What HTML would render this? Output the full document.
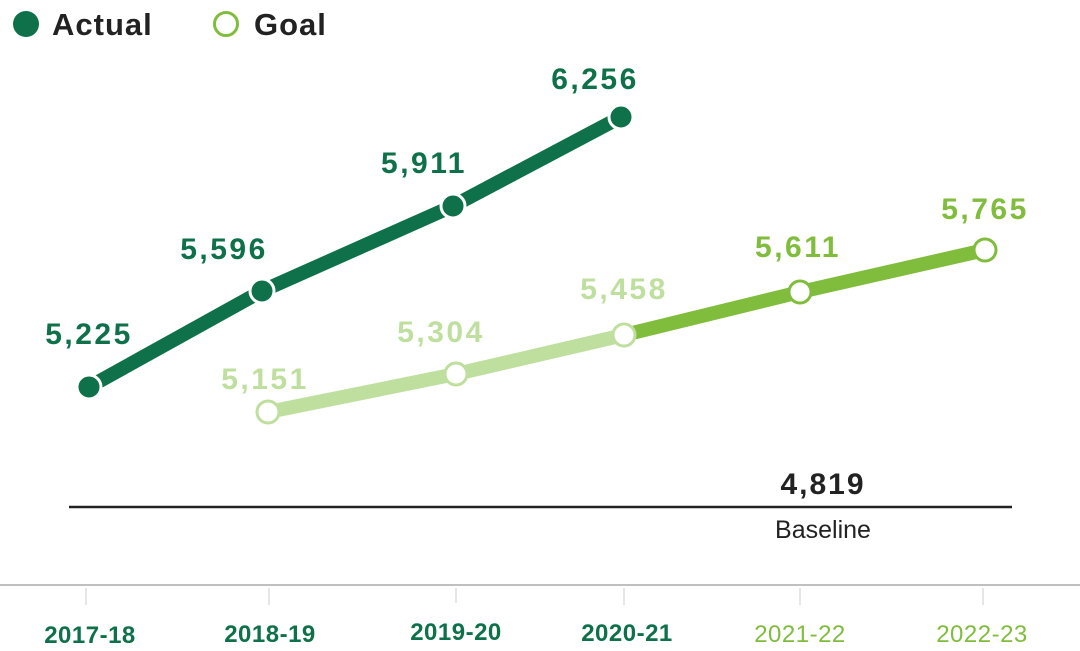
<!DOCTYPE html>
<html><head><style>body{margin:0;background:#fff}svg{display:block}</style></head><body>
<svg width="1080" height="651" xmlns="http://www.w3.org/2000/svg" font-family="Liberation Sans, sans-serif">
<circle cx="26" cy="24" r="13" fill="#0e7149"/>
<text x="52" y="35" font-size="31" font-weight="bold" fill="#222" letter-spacing="1">Actual</text>
<circle cx="226" cy="24" r="11.5" fill="#fff" stroke="#80bd3d" stroke-width="3"/>
<text x="254" y="35" font-size="31" font-weight="bold" fill="#222" letter-spacing="1">Goal</text>
<line x1="69" y1="507" x2="1012" y2="507" stroke="#222" stroke-width="2.5"/>
<text x="823" y="494" text-anchor="middle" font-size="30" font-weight="bold" fill="#222" letter-spacing="2">4,819</text>
<text x="823" y="538" text-anchor="middle" font-size="25" fill="#222">Baseline</text>
<line x1="0" y1="585" x2="1080" y2="585" stroke="#aaa" stroke-width="1.5"/>
<g stroke="#ccc" stroke-width="1">
<line x1="86" y1="588" x2="86" y2="605"/><line x1="269" y1="588" x2="269" y2="605"/><line x1="456" y1="588" x2="456" y2="603"/><line x1="624" y1="588" x2="624" y2="605"/><line x1="800" y1="588" x2="800" y2="605"/><line x1="983" y1="588" x2="983" y2="605"/></g>
<g font-size="24" font-weight="bold" fill="#0e7149" text-anchor="middle" letter-spacing="0.5">
<text x="90" y="643">2017-18</text><text x="270" y="642">2018-19</text><text x="456" y="640">2019-20</text><text x="627" y="641">2020-21</text></g>
<g font-size="24" fill="#80bd3d" text-anchor="middle" letter-spacing="0.5"><text x="800" y="642">2021-22</text><text x="982" y="642">2022-23</text></g>
<polyline points="268,412 456,374 624,335" fill="none" stroke="#bfdf9f" stroke-width="14"/>
<polyline points="624,335 800,292 985,250" fill="none" stroke="#80bd3d" stroke-width="14"/>
<polyline points="89,387 262,291 453,206 621,117" fill="none" stroke="#0e7149" stroke-width="14"/>
<g stroke="#fff" stroke-width="3" fill="#0e7149">
<circle cx="89" cy="387" r="12"/><circle cx="262" cy="291" r="12"/><circle cx="453" cy="206" r="12"/><circle cx="621" cy="117" r="12"/></g>
<g stroke-width="3" fill="#fff">
<circle cx="268" cy="412" r="11" stroke="#bfdf9f"/><circle cx="456" cy="374" r="11" stroke="#bfdf9f"/><circle cx="624" cy="335" r="11" stroke="#bfdf9f"/><circle cx="800" cy="292" r="11" stroke="#80bd3d"/><circle cx="985" cy="250" r="11" stroke="#80bd3d"/></g>
<g font-size="30" font-weight="bold" text-anchor="middle" letter-spacing="2.5">
<text x="89" y="344" fill="#0e7149">5,225</text><text x="224" y="259" fill="#0e7149">5,596</text><text x="424" y="173" fill="#0e7149">5,911</text><text x="595" y="89" fill="#0e7149">6,256</text>
<text x="265" y="389" fill="#bfdf9f">5,151</text><text x="441" y="342" fill="#bfdf9f">5,304</text><text x="624" y="299" fill="#bfdf9f">5,458</text>
<text x="798" y="257" fill="#80bd3d">5,611</text><text x="985" y="219" fill="#80bd3d">5,765</text></g>
</svg>
</body></html>
